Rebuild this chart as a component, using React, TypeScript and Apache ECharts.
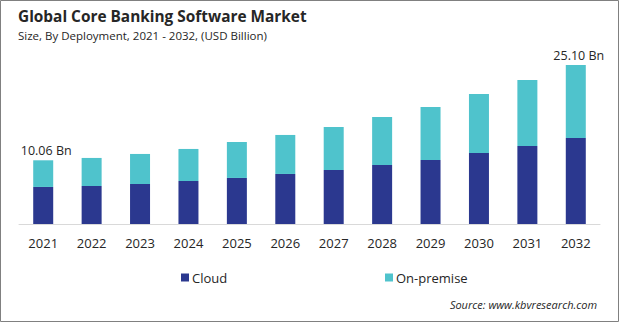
import React, { useEffect, useRef } from "react";
import * as echarts from "echarts";

const years = ["2021", "2022", "2023", "2024", "2025", "2026", "2027", "2028", "2029", "2030", "2031", "2032"];
const cloud = [5.85, 6.0, 6.32, 6.79, 7.27, 7.9, 8.53, 9.32, 10.11, 11.22, 12.32, 13.59];
const onPremise = [4.21, 4.43, 4.74, 5.06, 5.68, 6.16, 6.79, 7.58, 8.37, 9.32, 10.43, 11.51];
const labelledYears = ["2021", "2032"];

const FONT = "'Open Sans', 'Noto Sans', sans-serif";

export default function App() {
  const ref = useRef<HTMLDivElement>(null);
  useEffect(() => {
    if (!ref.current) return;
    const chart = echarts.init(ref.current, null, { renderer: "svg" });
    chart.setOption({
      animation: false,
      backgroundColor: "#ffffff",
      textStyle: { fontFamily: FONT },
      title: {
        text: "Global Core Banking Software Market",
        subtext: "Size, By Deployment, 2021 - 2032, (USD Billion)",
        left: 13,
        top: 4,
        itemGap: 5,
        textStyle: { fontFamily: FONT, fontSize: 15.4, fontWeight: "bold", color: "#262626" },
        subtextStyle: { fontFamily: FONT, fontSize: 11.5, color: "#262626" },
      },
      legend: [
        {
          data: ["Cloud"],
          left: 176,
          top: 266,
          itemWidth: 8,
          itemHeight: 8,
          itemGap: 6,
          icon: "rect",
          textStyle: { fontFamily: FONT, fontSize: 13, color: "#262626", padding: [0, 0, 0, -2] },
        },
        {
          data: ["On-premise"],
          left: 380,
          top: 266,
          itemWidth: 8,
          itemHeight: 8,
          icon: "rect",
          textStyle: { fontFamily: FONT, fontSize: 13, color: "#262626", padding: [0, 0, 0, -2] },
        },
      ],
      grid: { left: 19, right: 19, top: 34, bottom: 98, containLabel: false },
      xAxis: {
        type: "category",
        data: years,
        axisLine: { lineStyle: { color: "#d9d9d9", width: 1 } },
        axisTick: { show: false },
        axisLabel: { color: "#262626", fontSize: 13, margin: 12, fontFamily: FONT },
      },
      yAxis: {
        type: "value",
        min: 0,
        max: 30,
        show: false,
        splitLine: { show: false },
      },
      series: [
        {
          name: "Cloud",
          type: "bar",
          stack: "total",
          barWidth: 20,
          itemStyle: { color: "#2b388f" },
          data: cloud,
        },
        {
          name: "On-premise",
          type: "bar",
          stack: "total",
          barWidth: 20,
          itemStyle: { color: "#4fc3cc" },
          data: onPremise.map((v, i) => ({
            value: v,
            label: {
              show: labelledYears.includes(years[i]),
              position: "top",
              offset: [3, 1],
              distance: 4,
              fontFamily: FONT,
              fontSize: 12.5,
              color: "#262626",
              formatter: () => (cloud[i] + onPremise[i]).toFixed(2) + " Bn",
            },
          })),
        },
      ],
      graphic: [
        {
          type: "text",
          right: 22,
          top: 299,
          style: {
            text: "Source: www.kbvresearch.com",
            fontFamily: FONT,
            fontSize: 11,
            fontStyle: "italic",
            fill: "#262626",
          },
        },
        {
          type: "rect",
          shape: { x: 0.5, y: 0.5, width: 618, height: 321 },
          style: { fill: "none", stroke: "#808080", lineWidth: 1 },
          silent: true,
        },
      ],
    });
    return () => chart.dispose();
  }, []);
  return (
    <div
      ref={ref}
      style={{ position: "fixed", left: 0, top: 0, width: 619, height: 322 }}
    />
  );
}
